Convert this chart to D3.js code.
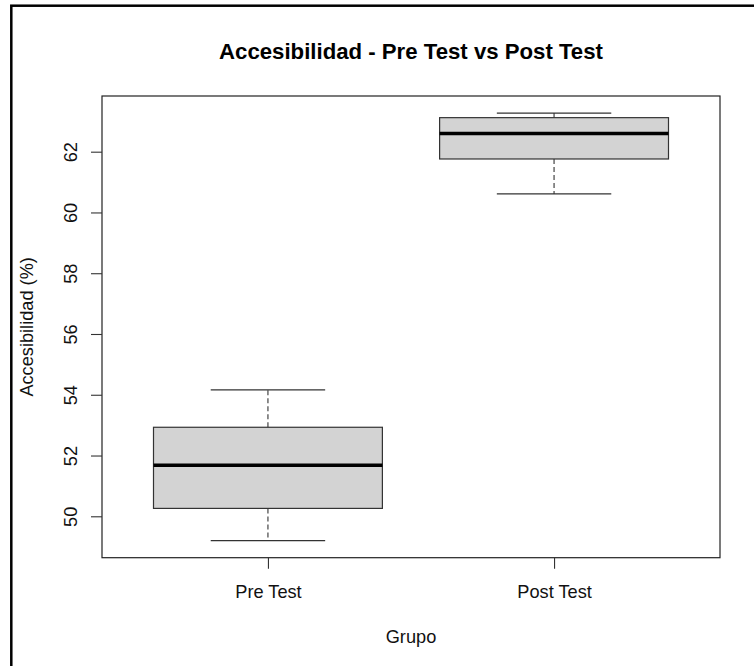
<!DOCTYPE html>
<html lang="es">
<head>
<meta charset="UTF-8">
<script src="https://d3js.org/d3.v7.min.js"></script>
<title>Accesibilidad - Pre Test vs Post Test</title>
<style>
    body { margin: 0; background: #fff; }
    svg { display: block; font-family: "Liberation Sans", Arial, sans-serif; }
</style>
</head>
<body>
<svg width="754" height="666"></svg>
<script>
// boxplot stats
const groups   = ["Pre Test", "Post Test"];
const whiskLow = [49.20, 60.61];
const q1       = [50.26, 61.76];
const medians  = [51.68, 62.60];
const q3       = [52.93, 63.12];
const whiskHi  = [54.16, 63.27];
const yTicks   = [50, 52, 54, 56, 58, 60, 62];

const svg = d3.select("svg");
const plot = {left: 102, right: 720, top: 96, bottom: 557.7};
const labelSize = 18.2;

// outer frame (only top and left edges visible)
svg.append("rect")
    .attr("x", 11.3).attr("y", 5.7)
    .attr("width", 800).attr("height", 700)
    .attr("fill", "none").attr("stroke", "#000").attr("stroke-width", 2.5);

// R style: 4% padding around data range
const lo = d3.min(whiskLow), hi = d3.max(whiskHi);
const pad = (hi - lo) * 0.04;
const y = d3.scaleLinear()
    .domain([lo - pad, hi + pad])
    .range([plot.bottom, plot.top]);

const x = d3.scaleLinear()
    .domain([0.42, 2.58])
    .range([plot.left, plot.right]);

const data = groups.map((g, i) => ({
    g, pos: i + 1,
    wl: whiskLow[i], q1: q1[i], med: medians[i], q3: q3[i], wh: whiskHi[i]
}));

const boxes = svg.append("g").selectAll("g").data(data).enter().append("g");

// whiskers (dashed)
boxes.append("line")
    .attr("x1", d => x(d.pos)).attr("x2", d => x(d.pos))
    .attr("y1", d => y(d.q3)).attr("y2", d => y(d.wh))
    .attr("stroke", "#333").attr("stroke-width", 1.1).attr("stroke-dasharray", "5,3");
boxes.append("line")
    .attr("x1", d => x(d.pos)).attr("x2", d => x(d.pos))
    .attr("y1", d => y(d.q1)).attr("y2", d => y(d.wl))
    .attr("stroke", "#333").attr("stroke-width", 1.1).attr("stroke-dasharray", "5,3");

// whisker caps
boxes.selectAll(".cap")
    .data(d => [[d.pos, d.wl], [d.pos, d.wh]])
    .enter().append("line")
    .attr("x1", d => x(d[0] - 0.2)).attr("x2", d => x(d[0] + 0.2))
    .attr("y1", d => y(d[1])).attr("y2", d => y(d[1]))
    .attr("stroke", "#333").attr("stroke-width", 1.2);

// box
boxes.append("rect")
    .attr("x", d => x(d.pos - 0.4))
    .attr("width", d => x(d.pos + 0.4) - x(d.pos - 0.4))
    .attr("y", d => y(d.q3))
    .attr("height", d => y(d.q1) - y(d.q3))
    .attr("fill", "#d3d3d3").attr("stroke", "#333").attr("stroke-width", 1.2);

// median
boxes.append("line")
    .attr("x1", d => x(d.pos - 0.4)).attr("x2", d => x(d.pos + 0.4))
    .attr("y1", d => y(d.med)).attr("y2", d => y(d.med))
    .attr("stroke", "#000").attr("stroke-width", 3.6);

// plot frame
svg.append("rect")
    .attr("x", plot.left).attr("y", plot.top)
    .attr("width", plot.right - plot.left).attr("height", plot.bottom - plot.top)
    .attr("fill", "none").attr("stroke", "#222").attr("stroke-width", 1.2);

// y axis
const yAxis = svg.append("g")
    .attr("transform", `translate(${plot.left},0)`)
    .call(d3.axisLeft(y).tickValues(yTicks).tickSize(11).tickFormat(d3.format("d")));
yAxis.select(".domain").remove();
yAxis.selectAll("line").attr("stroke", "#333").attr("stroke-width", 1.1);
yAxis.selectAll("text")
    .attr("x", 0).attr("dy", 0)
    .attr("text-anchor", "middle")
    .attr("transform", "translate(-25,0) rotate(-90)")
    .attr("font-size", labelSize).attr("font-family", "Liberation Sans, Arial, sans-serif")
    .attr("fill", "#111");

// x axis
const xAxis = svg.append("g")
    .attr("transform", `translate(0,${plot.bottom})`)
    .call(d3.axisBottom(x).tickValues([1, 2]).tickSize(11).tickFormat(d => groups[d - 1]));
xAxis.select(".domain").remove();
xAxis.selectAll("line").attr("stroke", "#333").attr("stroke-width", 1.1);
xAxis.selectAll("text")
    .attr("y", 40).attr("dy", 0)
    .attr("font-size", labelSize).attr("font-family", "Liberation Sans, Arial, sans-serif")
    .attr("fill", "#111");

// titles
const cx = (plot.left + plot.right) / 2;
svg.append("text")
    .attr("x", cx).attr("y", 59.3)
    .attr("text-anchor", "middle")
    .attr("font-size", 22.2).attr("font-weight", "bold")
    .text("Accesibilidad - Pre Test vs Post Test");

svg.append("text")
    .attr("x", cx).attr("y", 642.6)
    .attr("text-anchor", "middle")
    .attr("font-size", labelSize).attr("fill", "#111")
    .text("Grupo");

svg.append("text")
    .attr("transform", `translate(33,${(plot.top + plot.bottom) / 2}) rotate(-90)`)
    .attr("text-anchor", "middle")
    .attr("font-size", labelSize).attr("fill", "#111")
    .text("Accesibilidad (%)");
</script>
</body>
</html>
